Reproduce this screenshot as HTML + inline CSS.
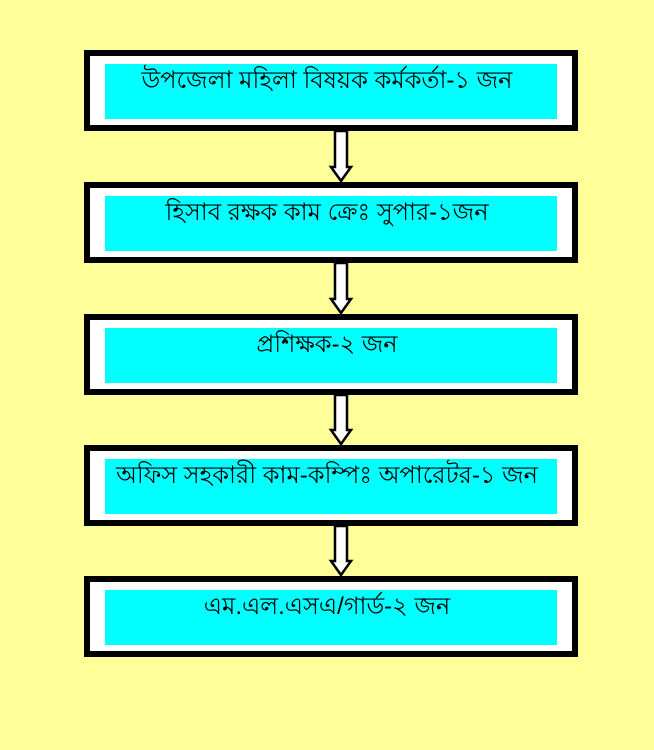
<!DOCTYPE html>
<html><head><meta charset="utf-8"><style>
body{margin:0;width:654px;height:750px;background:#FFFF99;position:relative;overflow:hidden;font-family:"Liberation Sans",sans-serif}
.b{position:absolute;left:84px;width:482px;height:69px;border:6px solid #000;background:#fff}
.c{position:absolute;left:15px;top:8px;width:452px;height:55px;background:#00FFFF;text-align:center;font-size:24px;line-height:34px;color:#000;padding-right:8px;box-sizing:border-box}
svg{position:absolute;left:0;top:0}
</style></head><body>
<div class="b" style="top:50px"><div class="c">উপজেলা মহিলা বিষয়ক কর্মকর্তা-১ জন</div></div>
<div class="b" style="top:182px"><div class="c">হিসাব রক্ষক কাম ক্রেঃ সুপার-১জন</div></div>
<div class="b" style="top:314px"><div class="c">প্রশিক্ষক-২ জন</div></div>
<div class="b" style="top:445px"><div class="c">অফিস সহকারী কাম-কম্পিঃ অপারেটর-১ জন</div></div>
<div class="b" style="top:576px"><div class="c">এম.এল.এসএ/গার্ড-২ জন</div></div>
<svg width="654" height="750">
<g fill="#fff" stroke="#000" stroke-width="2.5">
<path d="M335 131 V167 H331 L341 181 L351 167 H347 V131 Z"/>
<path d="M335 263 V299 H331 L341 313 L351 299 H347 V263 Z"/>
<path d="M335 395 V430 H331 L341 444 L351 430 H347 V395 Z"/>
<path d="M335 526 V561 H331 L341 575 L351 561 H347 V526 Z"/>
</g></svg>
</body></html>
